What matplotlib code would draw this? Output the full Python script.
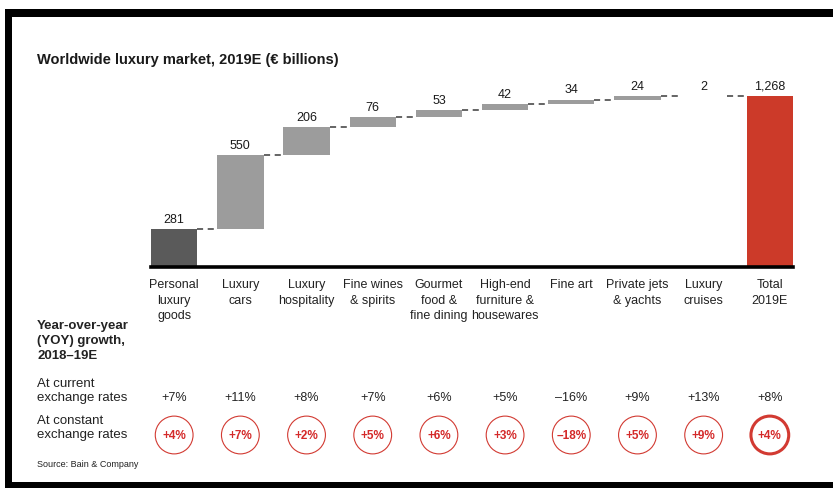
import matplotlib
matplotlib.use("Agg")
import matplotlib.pyplot as plt
import matplotlib.transforms as mtransforms
from matplotlib.patches import Rectangle
import numpy as np

plt.rcParams['font.family'] = ['Liberation Sans', 'DejaVu Sans']

categories = ["Personal\nluxury\ngoods", "Luxury\ncars", "Luxury\nhospitality",
              "Fine wines\n& spirits", "Gourmet\nfood &\nfine dining",
              "High-end\nfurniture &\nhousewares", "Fine art",
              "Private jets\n& yachts", "Luxury\ncruises", "Total\n2019E"]
segment_values = [281, 550, 206, 76, 53, 42, 34, 24, 2]
total_value = 1268
value_labels = ["281", "550", "206", "76", "53", "42", "34", "24", "2", "1,268"]
growth_current = ["+7%", "+11%", "+8%", "+7%", "+6%", "+5%", "\u201316%", "+9%", "+13%", "+8%"]
growth_constant = ["+4%", "+7%", "+2%", "+5%", "+6%", "+3%", "\u201318%", "+5%", "+9%", "+4%"]

W, H = 833, 489
fig = plt.figure(figsize=(W / 100, H / 100), dpi=100)
fig.patch.set_facecolor("white")

def fx(px):
    return px / W

def fy(py):
    return 1 - py / H

# bar area: baseline at y=268px, x from 151 to 793px
ymax = 1500
px_per_unit = 171 / total_value
ax_h = ymax * px_per_unit
ax = fig.add_axes([fx(151), fy(268), fx(793) - fx(151), ax_h / H])
ax.set_xlim(-0.35, 9.35)
ax.set_ylim(0, ymax)

x = np.arange(len(categories))
bw = 0.7
tops = np.cumsum(segment_values)
bottoms = tops - np.array(segment_values)

bar_colors = ["#5a5a5a"] + ["#9c9c9c"] * (len(segment_values) - 1)
ax.bar(x[:-1], segment_values, bottom=bottoms, width=bw, color=bar_colors, linewidth=0)
ax.bar(x[-1], total_value, width=bw, color="#cc3a29", linewidth=0)

# dashed connectors between steps
for i in range(len(segment_values)):
    ax.plot([x[i] + bw / 2, x[i + 1] - bw / 2], [tops[i], tops[i]],
            color="#3a3a3a", linestyle=(0, (4, 3)), linewidth=1.1)

# value labels
label_y = list(tops) + [total_value]
for xi, yi, lab in zip(x, label_y, value_labels):
    ax.annotate(lab, (xi, yi), xytext=(0, 3), textcoords="offset points",
                ha="center", va="bottom", fontsize=9, color="#1a1a1a")

for s in ["top", "right", "left"]:
    ax.spines[s].set_visible(False)
ax.spines["bottom"].set_linewidth(2.6)
ax.spines["bottom"].set_color("black")
ax.set_yticks([])
ax.set_xticks(x)
ax.set_xticklabels(categories, fontsize=9, color="#222222", linespacing=1.38)
ax.tick_params(axis="x", length=0, pad=8)
ax.patch.set_alpha(0)

# growth rows
trans = mtransforms.blended_transform_factory(ax.transData, fig.transFigure)
for xi, g in zip(x, growth_current):
    ax.text(xi, fy(398), g, transform=trans, ha="center", va="center",
            fontsize=9, color="#222222")

circle_lw = [0.8] * (len(x) - 1) + [2.2]
ax.scatter(x, [fy(436)] * len(x), s=740, transform=trans, clip_on=False,
           facecolor="white", edgecolor="#d23a32", linewidths=circle_lw, zorder=3)
for xi, g in zip(x, growth_constant):
    ax.text(xi, fy(436), g, transform=trans, ha="center", va="center",
            fontsize=8.5, color="#d42a2a", fontweight="bold", zorder=4)

# titles and row labels
fig.text(fx(37), fy(60), "Worldwide luxury market, 2019E (\u20ac billions)",
         fontsize=10.5, fontweight="bold", color="#1a1a1a", va="center", ha="left")
fig.text(fx(37), fy(341), "Year-over-year\n(YOY) growth,\n2018\u201319E",
         fontsize=9.5, fontweight="bold", color="#222222", va="center", ha="left",
         linespacing=1.3)
fig.text(fx(37), fy(391), "At current\nexchange rates", fontsize=9.5,
         color="#222222", va="center", ha="left", linespacing=1.25)
fig.text(fx(37), fy(428), "At constant\nexchange rates", fontsize=9.5,
         color="#222222", va="center", ha="left", linespacing=1.25)
fig.text(fx(37), fy(465), "Source: Bain & Company", fontsize=6.5,
         color="#222222", va="center", ha="left")

# black frame on top, left and bottom
fig.add_artist(Rectangle((fx(5), fy(18)), 1 - fx(5), fy(10) - fy(18),
                         transform=fig.transFigure, color="black", linewidth=0))
fig.add_artist(Rectangle((fx(5), 0), fx(12) - fx(5), fy(10),
                         transform=fig.transFigure, color="black", linewidth=0))
fig.add_artist(Rectangle((fx(5), 0), 1 - fx(5), fy(483),
                         transform=fig.transFigure, color="black", linewidth=0))

fig.savefig("out.png", dpi=100)
